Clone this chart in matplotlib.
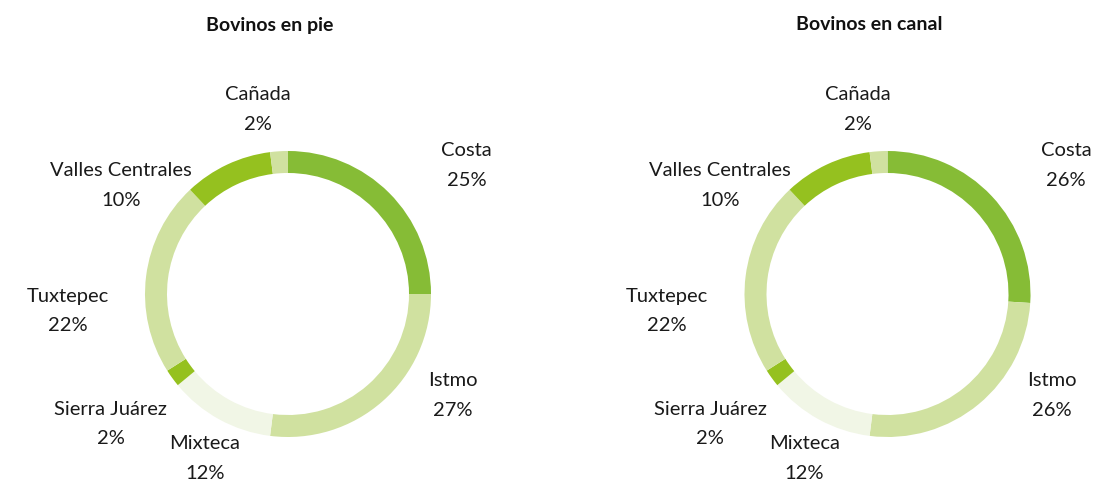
import matplotlib
matplotlib.use('Agg')
import matplotlib.pyplot as plt

plt.rcParams['font.family'] = ['Lato', 'DejaVu Sans']

# regions, clockwise from the top
regions = ['Costa', 'Istmo', 'Mixteca', 'Sierra Juárez', 'Tuxtepec',
           'Valles Centrales', 'Cañada']
pie_shares = [25, 27, 12, 2, 22, 10, 2]
canal_shares = [26, 26, 12, 2, 22, 10, 2]
titles = ['Bovinos en pie', 'Bovinos en canal']

colors = ['#86bc36', '#d0e1a0', '#f1f6e6', '#95c11f', '#d0e1a0',
          '#95c11f', '#d0e1a0']
# label centres, in units of the donut radius
label_pos = [(1.25, 0.90), (1.15, -0.71), (-0.58, -1.15), (-1.24, -0.91),
             (-1.54, -0.12), (-1.17, 0.76), (-0.21, 1.29)]

W, H = 1118, 484
R = 143.0  # donut radius in px
fig = plt.figure(figsize=(W / 100, H / 100), dpi=100)

centres_x = [288, 887.5]
cy_top = 294
for cx, shares, title in zip(centres_x, [pie_shares, canal_shares], titles):
    ax = fig.add_axes([(cx - H / 2) / W, 0, H / W, 1])
    ax.pie(shares, radius=1, startangle=90, counterclock=False, colors=colors,
           wedgeprops=dict(width=22 / R, edgecolor='none', linewidth=0))
    ax.set_xlim(-H / 2 / R, H / 2 / R)
    ax.set_ylim(-(H - cy_top) / R, cy_top / R)
    ax.set_aspect('equal')
    ax.axis('off')
    for name, v, (lx, ly) in zip(regions, shares, label_pos):
        ax.text(lx, ly, f'{name}\n{v}%', ha='center', va='center',
                fontsize=14.5, color='#1a1a1a', linespacing=1.9)
    ax.text(-0.125, (cy_top - 25) / R, title, ha='center', va='center',
            fontsize=14, fontweight='bold', color='#111111')

fig.savefig('out.png', dpi=100)
